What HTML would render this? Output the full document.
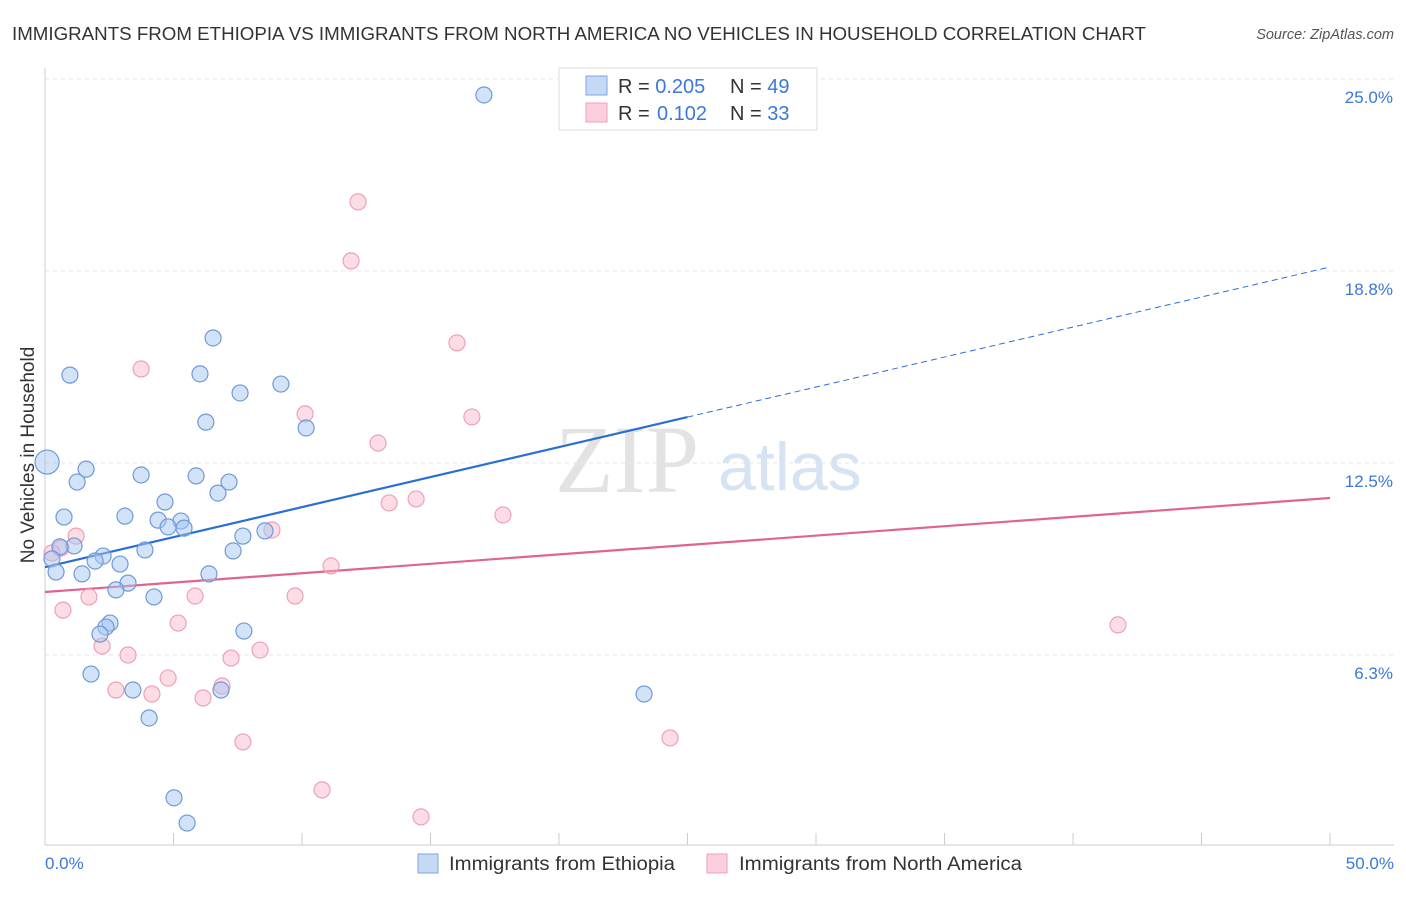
<!DOCTYPE html>
<html><head><meta charset="utf-8"><style>
body{margin:0;background:#fff;font-family:"Liberation Sans",sans-serif;}
</style></head><body>
<svg width="1406" height="892" xmlns="http://www.w3.org/2000/svg">
<text x="12" y="40" font-size="18" fill="#333" textLength="1134" lengthAdjust="spacingAndGlyphs">IMMIGRANTS FROM ETHIOPIA VS IMMIGRANTS FROM NORTH AMERICA NO VEHICLES IN HOUSEHOLD CORRELATION CHART</text>
<text x="1394" y="39" font-size="14.5" fill="#555" font-style="italic" text-anchor="end">Source: ZipAtlas.com</text>
<text x="555" y="492" font-size="96" fill="#e3e3e3" font-family="Liberation Serif,serif">ZIP</text>
<text x="718" y="490" font-size="68" fill="#d6e3f3">atlas</text>
<g id="grid"></g>
<g id="axes"></g>
<g id="lines"></g>
<g id="pts"></g>
<text transform="translate(34,455) rotate(-90)" font-size="19" fill="#333" text-anchor="middle">No Vehicles in Household</text>
<text x="45" y="869" font-size="17" fill="#3b78d8">0.0%</text>
<text x="1394" y="869" font-size="17" fill="#3b78d8" text-anchor="end">50.0%</text>
<g>
<rect x="559" y="68" width="258" height="62" fill="#fff" stroke="#ddd"/>
<rect x="586" y="76" width="21" height="19" fill="#c5d9f5" stroke="#7ea6e0"/>
<rect x="586" y="103" width="21" height="19" fill="#fbd0dc" stroke="#eea0b8"/>
<text x="618" y="93" font-size="20" fill="#333">R = <tspan fill="#3b78d8">0.205</tspan><tspan x="730">N = </tspan><tspan fill="#3b78d8">49</tspan></text>
<text x="618" y="120" font-size="20" fill="#333">R = <tspan x="657" fill="#3b78d8">0.102</tspan><tspan x="730">N = </tspan><tspan fill="#3b78d8">33</tspan></text>
</g>
<g>
<rect x="418" y="854" width="20" height="19" fill="#c5d9f5" stroke="#7ea6e0"/>
<text x="449" y="870" font-size="19" fill="#333" textLength="226" lengthAdjust="spacingAndGlyphs">Immigrants from Ethiopia</text>
<rect x="707" y="854" width="20" height="19" fill="#fbd0dc" stroke="#eea0b8"/>
<text x="739" y="870" font-size="19" fill="#333" textLength="283" lengthAdjust="spacingAndGlyphs">Immigrants from North America</text>
</g>
</svg>
<script>
const blueX=[17.08,6.54,0.97,6.03,9.18,7.59,6.26,10.16,0.08,1.60,3.74,5.88,1.25,7.16,6.73,4.67,0.74,3.11,4.40,5.29,4.79,5.41,8.56,7.70,1.13,0.58,3.89,7.32,2.26,1.95,0.27,2.92,0.43,1.44,6.38,3.23,2.76,4.24,2.53,2.37,2.14,7.74,1.79,3.42,6.85,23.31,4.05,5.02,5.53];
const blueY=[24.48,16.57,15.36,15.40,15.07,14.78,13.83,13.64,12.53,12.30,12.11,12.08,11.88,11.88,11.52,11.23,10.74,10.77,10.64,10.61,10.42,10.38,10.29,10.12,9.80,9.77,9.67,9.64,9.47,9.31,9.38,9.21,8.95,8.89,8.89,8.59,8.37,8.14,7.29,7.16,6.93,7.03,5.63,5.11,5.11,4.98,4.20,1.60,0.78];
const pinkX=[12.18,11.91,16.03,3.74,10.12,16.61,12.96,13.39,14.44,17.82,1.21,8.83,0.62,0.27,11.13,1.71,5.84,9.73,0.70,5.18,41.75,2.22,3.23,8.37,7.24,4.79,2.76,4.16,6.89,6.15,7.70,24.32,10.78,14.63];
const pinkY=[21.00,19.08,16.41,15.56,14.10,14.00,13.15,11.20,11.33,10.81,10.12,10.32,9.73,9.57,9.15,8.14,8.17,8.17,7.71,7.29,7.23,6.54,6.25,6.41,6.15,5.50,5.11,4.98,5.24,4.85,3.42,3.55,1.86,0.98];
const yTicks=[25.0,18.8,12.5,6.3];
const yTickVals=[25,18.75,12.5,6.25];
const blueTrend=[9.11,18.88];
const blueSolidEnd=25;
const pinkTrend=[8.30,11.36];
const NS="http://www.w3.org/2000/svg";
const X=v=>45+v*25.7, Y=v=>847-v*30.72;
function mk(p,t,a){const e=document.createElementNS(NS,t);for(const k in a)e.setAttribute(k,a[k]);document.getElementById(p).appendChild(e);return e;}
yTickVals.forEach((v,i)=>{
 const l=mk('grid','line',{x1:45,x2:1394,y1:Y(v),y2:Y(v),stroke:'#e4e4e4','stroke-dasharray':'4,4'});
 
 
 const t=mk('grid','text',{x:1393,y:Y(v)+24,'font-size':17,fill:'#3b78d8','text-anchor':'end'});
 t.textContent=yTicks[i].toFixed(1)+'%';
 
 
});
const ax=mk('axes','line',{x1:45,x2:45,y1:68,y2:845,stroke:'#ccc'});


const bx=mk('axes','line',{x1:45,x2:1394,y1:845,y2:845,stroke:'#ccc'});


for(let i=0;i<=10;i++){const t=mk('axes','line',{x1:X(i*5),x2:X(i*5),y1:833,y2:845,stroke:'#ccc'});
 
 }
const by=x=>blueTrend[0]+(blueTrend[1]-blueTrend[0])*x/50;
const l1=mk('lines','line',{x1:X(0),y1:Y(by(0)),x2:X(blueSolidEnd),y2:Y(by(blueSolidEnd)),stroke:'#2a6fd6','stroke-width':2.2});


const l2=mk('lines','line',{x1:X(blueSolidEnd),y1:Y(by(blueSolidEnd)),x2:X(50),y2:Y(by(50)),stroke:'#2a6fd6','stroke-width':1,'stroke-dasharray':'6,4'});


const l3=mk('lines','line',{x1:X(0),y1:Y(pinkTrend[0]),x2:X(50),y2:Y(pinkTrend[1]),stroke:'#e0658e','stroke-width':2.2});


pinkX.forEach((x,i)=>{const c=mk('pts','circle',{cx:X(x),cy:Y(pinkY[i]),r:8,fill:'rgba(248,180,200,0.45)',stroke:'#eea0b8','stroke-width':1.2});
 
 });
blueX.forEach((x,i)=>{const c=mk('pts','circle',{cx:X(x),cy:Y(blueY[i]),r:i==8?12:8,fill:'rgba(165,198,240,0.5)',stroke:'#6f9ad8','stroke-width':1.2});
 
 });
</script>
</body></html>
